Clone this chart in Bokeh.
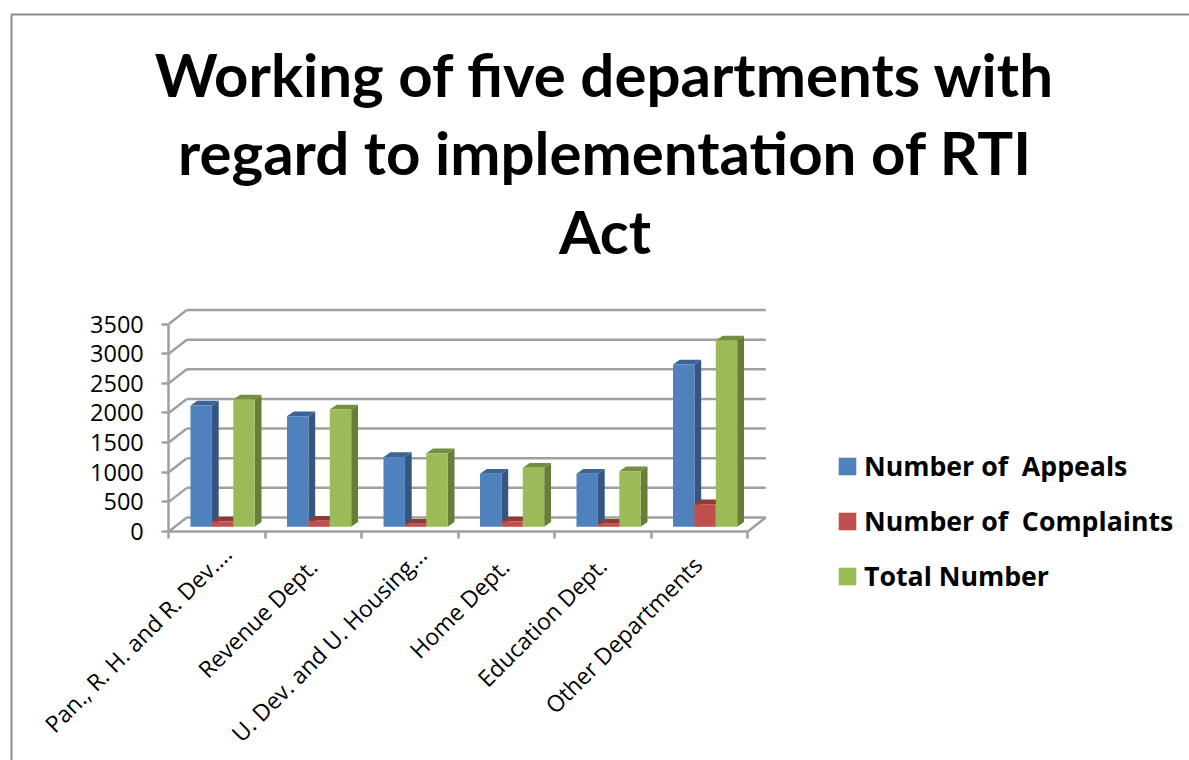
from bokeh.plotting import figure
from bokeh.models import Range1d, FixedTicker, Label, Legend, LegendItem, PolyAnnotation
from bokeh.embed import file_html
from bokeh.resources import INLINE
import math

categories = ["Pan., R. H. and R. Dev....", "Revenue Dept.", "U. Dev. and U. Housing...",
              "Home Dept.", "Education Dept.", "Other Departments"]
appeals = [2047, 1866, 1175, 894, 894, 2739]
complaints = [90, 100, 50, 90, 50, 381]
total = [2148, 1979, 1242, 995, 938, 3144]
y_ticks = [0, 500, 1000, 1500, 2000, 2500, 3000, 3500]
title_lines = ["Working of five departments with", "regard to implementation of RTI", "Act"]

PX_Y = 0.05926
PX_X = 96.5
X0_REF, Y0_REF = 168.3, 531.0
def rx(px): return (px - X0_REF) / PX_X
def ry(py): return (Y0_REF - py) / PX_Y
def dx(px): return px / PX_X
def dy(px): return px / PX_Y

p = figure(width=1189, height=760, output_backend="svg", toolbar_location=None,
           x_range=Range1d(rx(0), rx(1189)), y_range=Range1d(ry(760), ry(0)),
           min_border=0)
p.outline_line_color = None
p.grid.visible = False

GRID = "#a0a0a0"
wall_dx, wall_dy = dx(18), dy(14)
p.segment(x0=[wall_dx] * len(y_ticks), x1=[6 + wall_dx] * len(y_ticks),
          y0=[v + wall_dy for v in y_ticks], y1=[v + wall_dy for v in y_ticks],
          line_color=GRID, line_width=2.5)
p.segment(x0=[0] * len(y_ticks), x1=[wall_dx] * len(y_ticks),
          y0=y_ticks, y1=[v + wall_dy for v in y_ticks], line_color=GRID, line_width=2.5)
p.segment(x0=[6], x1=[6 + wall_dx], y0=[0], y1=[wall_dy], line_color=GRID, line_width=2.5)

bar_w = dx(21.4)
base = dy(4.7)
depth_x, depth_y = dx(6.8), dy(4.8)
start = dx(21.7)
series = [
    ("Number of  Appeals", appeals, "#4F81BD", "#345680", "#3B6497"),
    ("Number of  Complaints", complaints, "#C0504D", "#8A3533", "#953735"),
    ("Total Number", total, "#9BBB59", "#677E39", "#748F42"),
]
items = []
for si, (name, vals, front, side, top) in enumerate(series):
    for ci, v in enumerate(vals):
        l = ci + start + si * bar_w
        r = l + bar_w
        t = base + v
        p.patch([r, r + depth_x, r + depth_x, r], [base, base + depth_y, t + depth_y, t],
                fill_color=side, line_color=None)
        p.patch([l, l + depth_x, r + depth_x, r], [t, t + depth_y, t + depth_y, t],
                fill_color=top, line_color=None)
    rects = p.quad(left=[c + start + si * bar_w for c in range(6)],
                   right=[c + start + (si + 1) * bar_w for c in range(6)],
                   bottom=[base] * 6, top=[base + v for v in vals],
                   fill_color=front, line_color=None)
    items.append(LegendItem(label=name, renderers=[rects]))

yax = p.yaxis[0]
yax.fixed_location = 0
yax.ticker = FixedTicker(ticks=y_ticks)
yax.bounds = (0, 3500)
yax.axis_line_color = GRID
yax.axis_line_width = 2.5
yax.major_tick_line_color = GRID
yax.major_tick_line_width = 2.5
yax.major_tick_out = 7
yax.major_tick_in = 0
yax.minor_tick_line_color = None
yax.major_label_text_font = "Open Sans"
yax.major_label_text_font_size = "23.5px"
yax.major_label_text_color = "#000000"
yax.major_label_standoff = 18

xax = p.xaxis[0]
xax.fixed_location = 0
xax.ticker = FixedTicker(ticks=list(range(7)))
xax.bounds = (0, 6)
xax.axis_line_color = GRID
xax.axis_line_width = 2.5
xax.major_tick_line_color = GRID
xax.major_tick_line_width = 2.5
xax.major_tick_out = 7
xax.major_tick_in = 0
xax.minor_tick_line_color = None
xax.major_label_overrides = {i: "" for i in range(7)}

ends = [(10, -18), (-1, -31), (12, -19), (-2, -31), (-1, -30), (-2, -29)]
for i, c in enumerate(categories):
    p.add_layout(Label(x=i + 0.5, y=0, x_offset=ends[i][0], y_offset=ends[i][1], text=c,
                       angle=math.pi / 4, text_align="right", text_baseline="middle",
                       text_font="Open Sans", text_font_size="23px", text_color="#000000"))

for line, ypx in zip(title_lines, [73, 151, 230]):
    p.add_layout(Label(x=rx(604.5), y=ry(ypx), text=line, text_align="center", text_baseline="middle",
                       text_font="Lato", text_font_style="bold", text_font_size="60px",
                       text_color="#000000"))

p.add_layout(PolyAnnotation(xs=[rx(11), rx(11), rx(1300), rx(1300)], ys=[ry(900), ry(14), ry(14), ry(900)],
                            fill_color=None, line_color="#8c8c8c", line_width=2, line_alpha=1))

legend = Legend(items=items, location=(836, 166), orientation="vertical",
                border_line_color=None, background_fill_color=None,
                glyph_width=22, glyph_height=22, spacing=18, label_standoff=6,
                label_text_font="Open Sans", label_text_font_style="bold",
                label_text_font_size="26.7px", label_text_color="#000000",
                padding=0, margin=0)
p.add_layout(legend)

open("out.html", "w").write(file_html(p, INLINE))
